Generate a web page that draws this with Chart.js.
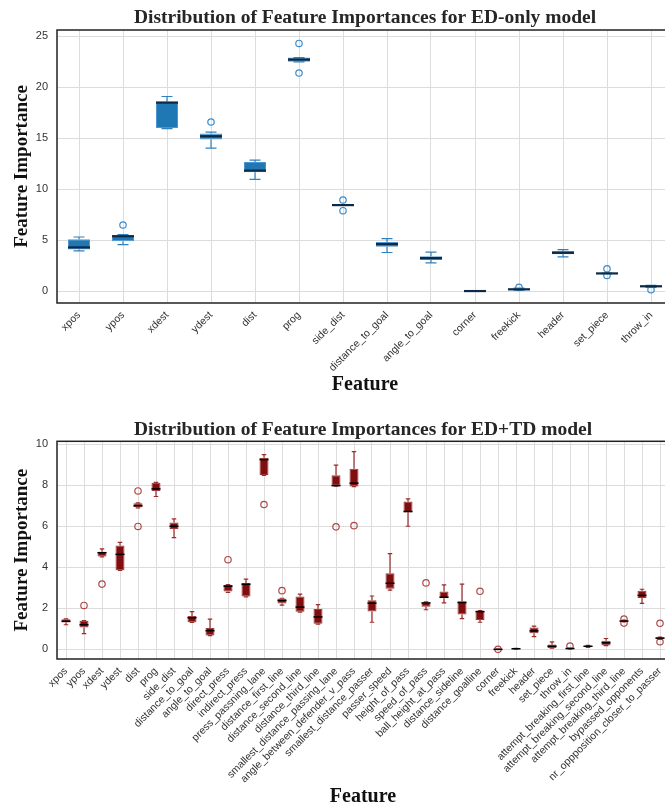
<!DOCTYPE html>
<html><head><meta charset="utf-8">
<script src="https://cdn.jsdelivr.net/npm/chart.js@4"></script>
<style>
html,body{margin:0;padding:0;background:#fff;overflow:hidden;width:665px;height:807px;position:relative;}
#w1{position:absolute;left:0;top:0;width:680px;height:400px;}
#w2{position:absolute;left:0;top:400px;width:680px;height:407px;}
</style></head><body>
<div id="w1"><canvas id="c1"></canvas></div>
<div id="w2"><canvas id="c2"></canvas></div>
<script>
// ---------- ED-only model ----------
const catsED = ['xpos','ypos','xdest','ydest','dist','prog','side_dist','distance_to_goal','angle_to_goal','corner','freekick','header','set_piece','throw_in'];
const minED  = [3.97, 4.58, 15.95, 14.03, 10.97, 22.50, 8.42, 3.80, 2.79, 0.00, 0.12, 3.38, 1.73, 0.38];
const q1ED   = [4.10, 4.90, 16.00, 14.88, 11.68, 22.50, 8.42, 4.37, 3.06, 0.01, 0.14, 3.62, 1.73, 0.40];
const medED  = [4.30, 5.40, 18.50, 15.20, 11.83, 22.72, 8.45, 4.62, 3.25, 0.02, 0.19, 3.77, 1.75, 0.49];
const q3ED   = [5.10, 5.50, 18.60, 15.48, 12.68, 22.92, 8.47, 4.83, 3.43, 0.03, 0.28, 3.95, 1.78, 0.53];
const maxED  = [5.32, 5.55, 19.10, 15.60, 12.86, 22.92, 8.47, 5.16, 3.83, 0.04, 0.30, 4.09, 1.78, 0.57];
const outED  = [[], [6.5], [], [16.6], [], [24.3, 21.4], [8.95, 7.9], [], [], [], [0.38], [], [2.2, 1.55], [0.15]];
const yTicksED = [0, 5, 10, 15, 20, 25];

// ---------- ED+TD model ----------
const catsTD = ['xpos','ypos','xdest','ydest','dist','prog','side_dist','distance_to_goal','angle_to_goal','direct_press','indirect_press','press_passning_lane','distance_first_line','distance_second_line','distance_third_line','smallest_distance_passing_lane','angle_between_defender_v_pass','smallest_distance_passer','passer_speed','height_of_pass','speed_of_pass','ball_height_at_pass','distance_sideline','distance_goalline','corner','freekick','header','set_piece','throw_in','attempt_breaking_first_line','attempt_breaking_second_line','attempt_breaking_third_line','bypassed_opponents','nr_oppposition_closer_to_passer'];
const minTD = [1.20,0.77,4.51,3.85,6.90,7.45,5.45,1.31,0.67,2.78,2.56,8.48,2.16,1.81,1.23,7.96,7.93,1.32,2.89,6.00,1.93,2.27,1.50,1.32,0.00,0.01,0.62,0.06,0.02,0.10,0.18,1.37,2.24,0.48];
const q1TD  = [1.31,1.07,4.52,3.86,6.92,7.72,5.87,1.32,0.68,2.82,2.58,8.50,2.23,1.83,1.25,7.97,7.94,1.84,2.95,6.67,2.08,2.49,1.70,1.43,0.00,0.02,0.78,0.07,0.03,0.11,0.19,1.37,2.50,0.50];
const medTD = [1.37,1.20,4.71,4.63,7.00,7.82,6.00,1.54,0.91,3.08,3.17,9.25,2.38,2.06,1.58,7.98,8.10,2.25,3.22,6.72,2.26,2.54,2.28,1.84,0.00,0.03,0.90,0.15,0.04,0.15,0.32,1.38,2.63,0.55];
const q3TD  = [1.47,1.39,4.76,5.06,7.12,8.12,6.18,1.63,1.04,3.14,3.24,9.34,2.48,2.58,1.97,8.48,8.80,2.39,3.71,7.20,2.30,2.82,2.35,1.88,0.01,0.04,1.06,0.24,0.05,0.18,0.42,1.39,2.86,0.58];
const maxTD = [1.49,1.40,4.90,5.21,7.14,8.14,6.36,1.84,1.47,3.15,3.42,9.49,2.49,2.69,2.18,8.98,9.64,2.60,4.67,7.33,2.31,3.14,3.18,1.89,0.01,0.05,1.13,0.36,0.06,0.19,0.53,1.39,2.93,0.60];
const outTD = [[],[2.14],[3.18],[],[7.72,5.99],[],[],[],[],[4.37],[],[7.06],[2.86],[],[],[5.97],[6.03],[],[],[],[3.24],[],[],[2.83],[0.0],[],[],[],[0.16],[],[],[1.48,1.28],[],[1.27,0.37]];
const yTicksTD = [0, 2, 4, 6, 8, 10];

const SERIF = "'Liberation Serif', 'Times New Roman', serif";
const SANS = "'Liberation Sans', Arial, sans-serif";

function boxExtras(stats, st) {
  return {
    id: 'boxExtras',
    beforeDatasetsDraw(chart) {
      const {ctx, chartArea: a} = chart;
      ctx.save();
      ctx.strokeStyle = '#222'; ctx.lineWidth = 1.5;
      ctx.strokeRect(a.left, a.top, a.right - a.left, a.bottom - a.top);
      ctx.restore();
    },
    afterDatasetsDraw(chart) {
      const {ctx} = chart;
      const xs = chart.scales.x, ys = chart.scales.y;
      const band = xs.getPixelForValue(1) - xs.getPixelForValue(0);
      const boxW = band * 0.5, capW = band * 0.25;
      ctx.save();
      for (let i = 0; i < stats.min.length; i++) {
        const cx = xs.getPixelForValue(i);
        const yMin = ys.getPixelForValue(stats.min[i]), yQ1 = ys.getPixelForValue(stats.q1[i]);
        const yQ3 = ys.getPixelForValue(stats.q3[i]), yMax = ys.getPixelForValue(stats.max[i]);
        const yMed = ys.getPixelForValue(stats.med[i]);
        ctx.strokeStyle = st.whisker; ctx.lineWidth = st.whiskerW;
        ctx.beginPath();
        ctx.moveTo(cx, yQ3); ctx.lineTo(cx, yMax);
        ctx.moveTo(cx, yQ1); ctx.lineTo(cx, yMin);
        ctx.moveTo(cx - capW/2, yMax); ctx.lineTo(cx + capW/2, yMax);
        ctx.moveTo(cx - capW/2, yMin); ctx.lineTo(cx + capW/2, yMin);
        ctx.stroke();
        ctx.strokeStyle = st.median; ctx.lineWidth = st.medianW;
        ctx.beginPath();
        ctx.moveTo(cx - boxW/2, yMed); ctx.lineTo(cx + boxW/2, yMed);
        ctx.stroke();
      }
      ctx.restore();
    }
  };
}

function makeChart(id, cats, mn, q1, md, q3, mx, outs, yTicks, yMin, yMax, title, st, lay) {
  const outPts = [];
  outs.forEach((arr, i) => arr.forEach(v => outPts.push({x: cats[i], y: v})));
  return new Chart(document.getElementById(id), {
    data: {
      labels: cats,
      datasets: [
        { type: 'bar', data: q1.map((v, i) => [v, q3[i]]), backgroundColor: st.fill, borderColor: st.edge,
          borderWidth: 1, borderSkipped: false, barPercentage: 0.5, categoryPercentage: 1, grouped: false, order: 2 },
        { type: 'line', data: outPts, showLine: false, pointRadius: st.ptR, pointBorderWidth: 1.2,
          pointBackgroundColor: 'rgba(0,0,0,0)', pointBorderColor: st.flier, order: 1 }
      ]
    },
    options: {
      responsive: true, maintainAspectRatio: false, animation: false,
      layout: { padding: { left: 0, right: lay.right, top: 0, bottom: 0 } },
      plugins: {
        legend: { display: false }, tooltip: { enabled: false },
        title: { display: true, text: title, fullSize: false, color: '#262626',
          font: { family: SERIF, size: 19.5, weight: 'bold', lineHeight: 1.2 }, padding: lay.titlePad }
      },
      scales: {
        x: { type: 'category', offset: true,
          grid: { offset: false, color: '#dcdcdc', lineWidth: 1, drawTicks: false },
          border: { display: false },
          ticks: { autoSkip: false, minRotation: 45, maxRotation: 45, padding: 6, color: '#333',
            font: { family: SANS, size: 10.5 } },
          afterFit: s => { s.height = lay.xH; },
          title: { display: true, text: 'Feature', color: '#111',
            font: { family: SERIF, size: 20, weight: 'bold', lineHeight: 1.0 }, padding: { top: 0, bottom: lay.xTitleBottom } }
        },
        y: { type: 'linear', min: yMin, max: yMax,
          afterBuildTicks: s => { s.ticks = yTicks.map(v => ({ value: v })); },
          afterFit: s => { s.width = 57; },
          grid: { color: '#dcdcdc', lineWidth: 1, drawTicks: false },
          border: { display: false },
          ticks: { padding: 9, color: '#333', font: { family: SANS, size: 11 } },
          title: { display: true, text: 'Feature Importance', color: '#111',
            font: { family: SERIF, size: 19, weight: 'bold', lineHeight: 1.2 }, padding: { top: 11, bottom: 0 } }
        }
      }
    },
    plugins: [boxExtras({ min: mn, q1: q1, med: md, q3: q3, max: mx }, st)]
  });
}

makeChart('c1', catsED, minED, q1ED, medED, q3ED, maxED, outED, yTicksED, -1.15, 25.62,
  'Distribution of Feature Importances for ED-only model',
  { fill: '#1f77b4', edge: '#4d95cf', whisker: '#2f82c2', whiskerW: 1.2, median: '#0c2a45', medianW: 2.2, flier: '#3b8bcb', ptR: 3.2 },
  { right: 7, xH: 97, xTitleBottom: 5, titlePad: { top: 6, bottom: 0.6 } });

makeChart('c2', catsTD, minTD, q1TD, medTD, q3TD, maxTD, outTD, yTicksTD, -0.47, 10.14,
  'Distribution of Feature Importances for ED+TD model',
  { fill: '#800e0e', edge: '#a03a3a', whisker: '#9a2c2c', whiskerW: 1.2, median: '#000000', medianW: 1.5, flier: '#b04848', ptR: 3.2 },
  { right: 11, xH: 148, xTitleBottom: 0, titlePad: { top: 18.5, bottom: -0.6 } });
</script>
</body></html>
